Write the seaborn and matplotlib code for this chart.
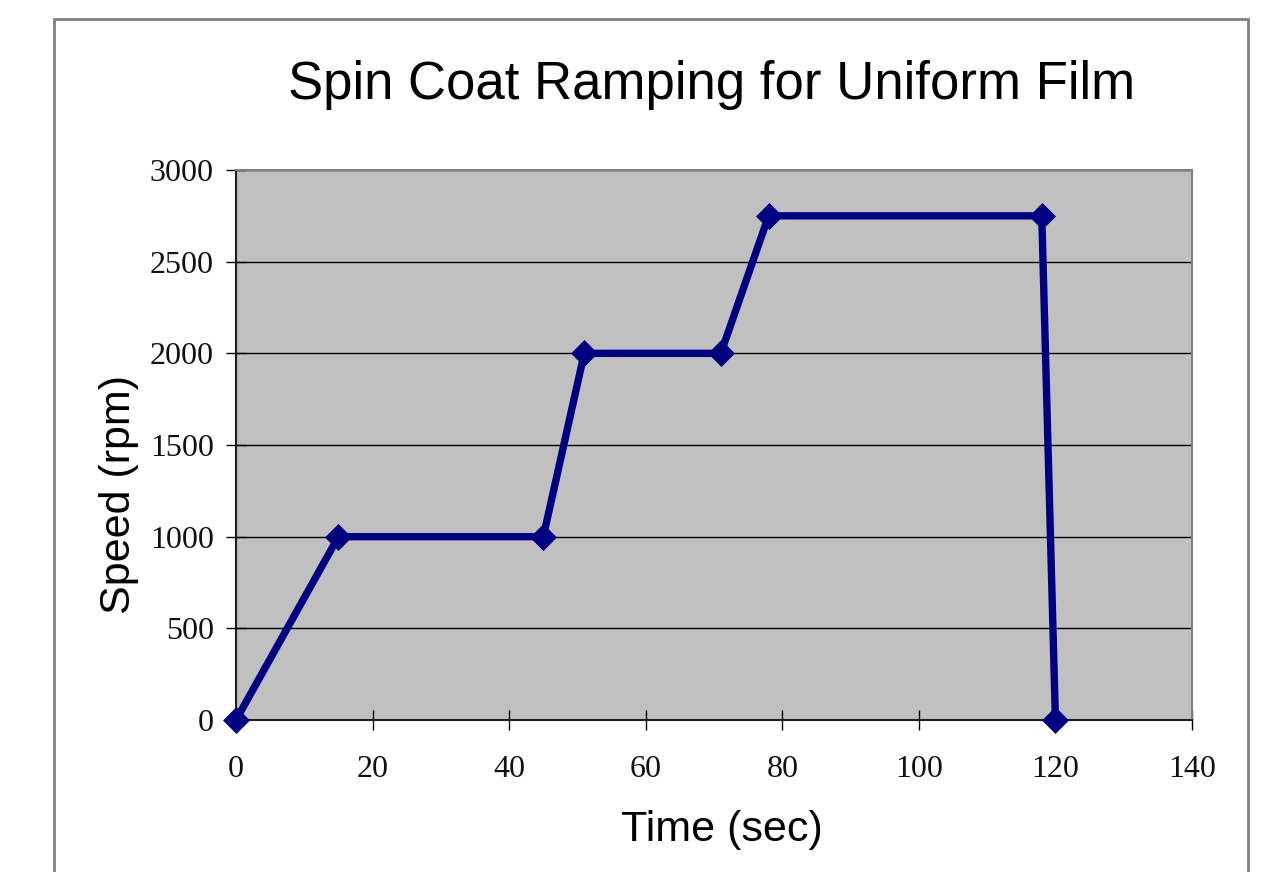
import matplotlib
matplotlib.use("Agg")
import matplotlib.pyplot as plt
import seaborn as sns
import pandas as pd
from matplotlib.patches import Rectangle

time_sec = [0, 15, 45, 51, 71, 78, 118, 120]
speed_rpm = [0, 1000, 1000, 2000, 2000, 2750, 2750, 0]
x_ticks = [0, 20, 40, 60, 80, 100, 120, 140]
y_ticks = [0, 500, 1000, 1500, 2000, 2500, 3000]

df = pd.DataFrame({"Time (sec)": time_sec, "Speed (rpm)": speed_rpm})

sns.set_style("white")
plt.rcParams["font.family"] = ["Liberation Sans", "DejaVu Sans"]
plt.rcParams["text.color"] = "black"
plt.rcParams["axes.labelcolor"] = "black"

fig = plt.figure(figsize=(12.83, 8.72), dpi=100)
ax = fig.add_axes([236 / 1283, 1 - 720 / 872, (1192 - 236) / 1283, (720 - 170) / 872])

# outer frame (Excel-like chart area border)
fig.patches.append(Rectangle((54 / 1283, -0.01), (1248 - 54) / 1283, 1.01 - 19 / 872,
                             transform=fig.transFigure, fill=False,
                             edgecolor="#808080", linewidth=2))

ax.set_facecolor("#C0C0C0")
sns.lineplot(data=df, x="Time (sec)", y="Speed (rpm)", ax=ax, color="#000080",
             linewidth=5.3, marker="D", markersize=13, markeredgewidth=0.5,
             markeredgecolor="#000080", clip_on=False, zorder=5)

ax.set_xlim(0, 140)
ax.set_ylim(0, 3000)
ax.set_xticks(x_ticks)
ax.set_yticks(y_ticks)
ax.yaxis.grid(True, color="black", linewidth=1)
ax.set_axisbelow(True)

for side in ["left", "bottom"]:
    ax.spines[side].set_color("#202020")
    ax.spines[side].set_linewidth(1.5)
for side in ["right", "top"]:
    ax.spines[side].set_color("#808080")
    ax.spines[side].set_linewidth(1.5)

ax.tick_params(axis="both", direction="inout", length=14, width=1, color="black",
               labelsize=23, bottom=True, left=True, labelcolor="#111111")
ax.tick_params(axis="x", pad=18)
ax.tick_params(axis="y", pad=9)
for lab in ax.get_xticklabels() + ax.get_yticklabels():
    lab.set_family(["Liberation Serif", "DejaVu Serif"])

ax.set_xlabel("Time (sec)", fontsize=31)
ax.set_ylabel("Speed (rpm)", fontsize=31)
ax.xaxis.set_label_coords((722 - 236) / 956, -(830 - 720) / 550)
ax.yaxis.set_label_coords((119 - 236) / 956, (720 - 494) / 550)
ax.xaxis.label.set_va("center")
ax.yaxis.label.set_va("center")

fig.text(712 / 1283, 1 - 85 / 872, "Spin Coat Ramping for Uniform Film",
         fontsize=38, ha="center", va="center", color="black")

fig.savefig("out.png", dpi=100)
